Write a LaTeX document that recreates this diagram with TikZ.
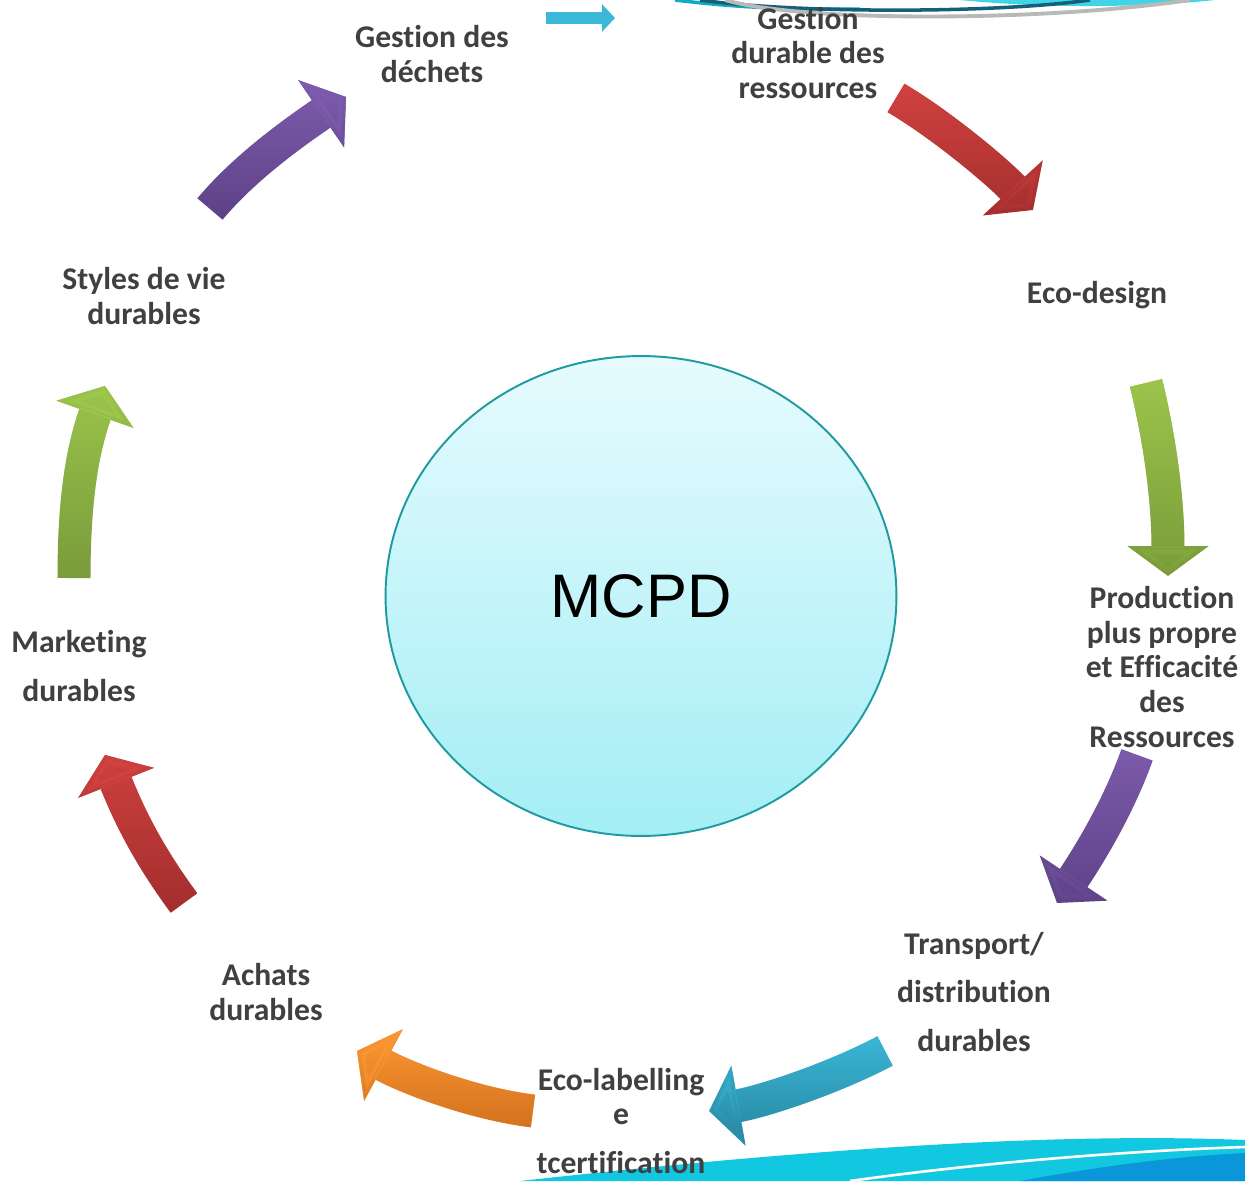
\documentclass[tikz,border=0pt]{standalone}
\usepackage{fontspec}
\setmainfont{Carlito}[Ligatures=NoCommon]
\setsansfont{Liberation Sans}
\usetikzlibrary{arrows.meta,shapes.geometric,fadings}
\definecolor{ink}{HTML}{404040}
\definecolor{rim}{HTML}{1E9AA0}
\definecolor{poolTop}{HTML}{E6FBFE}
\definecolor{poolBot}{HTML}{A3EEF5}
\definecolor{redTop}{HTML}{D24240}
\definecolor{redBot}{HTML}{A02E2D}
\definecolor{plumTop}{HTML}{7D5CAD}
\definecolor{plumBot}{HTML}{5C4185}
\definecolor{leafTop}{HTML}{9DC84C}
\definecolor{leafBot}{HTML}{77983A}
\definecolor{tangTop}{HTML}{FA9632}
\definecolor{tangBot}{HTML}{D4721F}
\definecolor{seaTop}{HTML}{3BB7D8}
\definecolor{seaBot}{HTML}{2A8EA9}
\definecolor{wave}{HTML}{12C8E0}
\definecolor{deep}{HTML}{0A97DA}
\definecolor{petrol}{HTML}{12607A}
\tikzset{
  lbl/.style={font=\fontsize{18}{19.8}\selectfont\bfseries,text=ink,align=center},
  lblwide/.style={lbl,font=\fontsize{18}{27.6}\selectfont\bfseries},
  cyc/.style={line width=0.66cm,-{Triangle[length=0.6cm,width=1.6cm]}},
  hub/.style={ellipse,draw=rim,line width=1.1pt,top color=poolTop,bottom color=poolBot,
    minimum width=10.22cm,minimum height=9.6cm,font=\sffamily\fontsize{35}{40}\selectfont}
}
% #1 colour name (Top/Bot), #2 path
\newcommand\ringarrow[2]{%
  \draw[cyc,#1Bot] #2;
  \draw[cyc,#1Top,path fading=south] #2;
}
\begin{document}
\begin{tikzpicture}[x=0.02cm,y=-0.02cm]
  \useasboundingbox (0,0) rectangle (1245,1181);

  % decor, top and bottom
  \fill[wave!80] (960,0) .. controls (1050,9) and (1150,7) .. (1215,0) -- cycle;
  \draw[wave!70!petrol,line width=2pt] (675,0) .. controls (740,8) and (800,10) .. (860,9);
  \draw[petrol,line width=2pt] (700,0) .. controls (790,13) and (990,14) .. (1090,0);
  \draw[gray!55,line width=2.2pt] (725,0) .. controls (800,22) and (1040,22) .. (1190,0);
  \fill[wave] (520,1181) .. controls (800,1150) and (1050,1132) .. (1245,1140) -- (1245,1181) -- cycle;
  \draw[white,line width=1.5pt] (850,1181) .. controls (1000,1160) and (1150,1150) .. (1245,1147);
  \fill[deep] (1020,1181) .. controls (1100,1166) and (1180,1156) .. (1245,1153) -- (1245,1181) -- cycle;

  % centre
  \node[hub] (mcpd) at (641,596) {MCPD};

  % labels
  \node[lbl] (dechets) at (432,54) {Gestion des\\déchets};
  \node[lbl] (ressources) at (808,53) {Gestion\\durable des\\ressources};
  \node[lbl] (design) at (1097,295) {Eco-design};
  \node[lbl] (production) at (1162,667) {Production\\plus propre\\et Efficacité\\des\\Ressources};
  \node[lblwide] (transport) at (974,992) {Transport/\\distribution\\durables};
  \node[lbl] (labelling) at (621,1121) {Eco-labelling\\e\\[8pt]tcertification};
  \node[lbl] (achats) at (266,992) {Achats\\durables};
  \node[lblwide] (marketing) at (79,666) {Marketing\\durables};
  \node[lbl] (styles) at (144,296) {Styles de vie\\durables};

  % arrow ends
  \coordinate (ta) at (546,18);   \coordinate (tb) at (615,18);
  \coordinate (ra) at (896,98);   \coordinate (rb) at (1033,210);
  \coordinate (ga) at (1146,383); \coordinate (gb) at (1168,576);
  \coordinate (pa) at (1137,755); \coordinate (pb) at (1057,903);
  \coordinate (sa) at (885,1051); \coordinate (sb) at (709,1111);
  \coordinate (oa) at (533,1111); \coordinate (ob) at (357,1051);
  \coordinate (qa) at (184,903);  \coordinate (qb) at (105,755);
  \coordinate (la) at (74,578);   \coordinate (lb) at (105,386);
  \coordinate (va) at (210,209);  \coordinate (vb) at (346,97);

  % cycle arrows
  \draw[seaTop,line width=0.24cm,-{Triangle[length=0.26cm,width=0.54cm]}] (ta) -- (tb);
  \ringarrow{red}{(ra) .. controls (942,125) and (999,173) .. (rb)}
  \ringarrow{leaf}{(ga) .. controls (1160,440) and (1168,500) .. (gb)}
  \ringarrow{plum}{(pa) .. controls (1118,808) and (1089,855) .. (pb)}
  \ringarrow{sea}{(sa) .. controls (834,1078) and (765,1101) .. (sb)}
  \ringarrow{tang}{(oa) .. controls (475,1104) and (409,1079) .. (ob)}
  \ringarrow{red}{(qa) .. controls (150,857) and (130,818) .. (qb)}
  \ringarrow{leaf}{(la) .. controls (74,500) and (82,451) .. (lb)}
  \ringarrow{plum}{(va) .. controls (245,167) and (296,131) .. (vb)}
\end{tikzpicture}
\end{document}
